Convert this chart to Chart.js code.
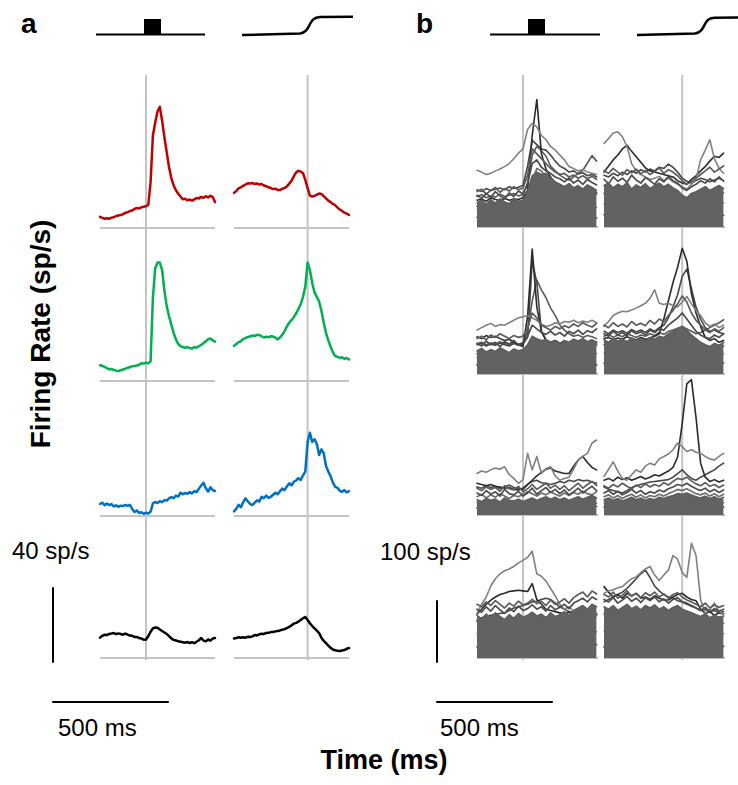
<!DOCTYPE html>
<html><head><meta charset="utf-8">
<script src="https://cdn.jsdelivr.net/npm/chart.js@4"></script>
<style>
html,body{margin:0;padding:0;background:#fff;}
body{width:738px;height:785px;overflow:hidden;position:relative;font-family:"Liberation Sans",Arial,sans-serif;}
canvas{position:absolute;}
svg{position:absolute;left:0;top:0;}
</style></head><body>
<svg width="738" height="785" font-family="Liberation Sans, Arial, sans-serif">
  <text x="21" y="33" font-size="28" font-weight="bold">a</text>
  <text x="416" y="33" font-size="28" font-weight="bold">b</text>
  <line x1="96" y1="34.5" x2="205" y2="34.5" stroke="#000" stroke-width="2"/>
  <rect x="144" y="19" width="17" height="16" fill="#000"/>
  <path d="M242 35 L300 33.5 C306 33 308 28 310 24 C312 20 314 17.5 320 17 L353 16.8" stroke="#000" stroke-width="2.5" fill="none"/>
  <line x1="490" y1="34.5" x2="600" y2="34.5" stroke="#000" stroke-width="2"/>
  <rect x="528" y="19" width="17" height="16" fill="#000"/>
  <path d="M637 35 L695 33.5 C701 33 703 28 705 24 C707 20 709 18 715 17.8 L738 17.6" stroke="#000" stroke-width="2.5" fill="none"/>
  <text transform="translate(50,334) rotate(-90)" text-anchor="middle" font-size="28" font-weight="bold">Firing Rate (sp/s)</text>
  <text x="12" y="559" font-size="24">40 sp/s</text>
  <text x="380" y="560" font-size="24">100 sp/s</text>
  <text x="58" y="736" font-size="24">500 ms</text>
  <text x="440" y="736" font-size="24">500 ms</text>
  <text x="384" y="769" text-anchor="middle" font-size="27" font-weight="bold">Time (ms)</text>
</svg>
<script>
// ---------- time axes (ms) ----------
const tAL = [-200,-190,-180,-170,-160,-150,-140,-130,-120,-110,-100,-90,-80,-70,-60,-50,-40,-30,-20,-10,0,10,20,30,40,50,60,70,80,90,100,110,120,130,140,150,160,170,180,190,200,210,220,230,240,250,260,270,280,290,300];
const tAR = [-320,-310,-300,-290,-280,-270,-260,-250,-240,-230,-220,-210,-200,-190,-180,-170,-160,-150,-140,-130,-120,-110,-100,-90,-80,-70,-60,-50,-40,-30,-20,-10,0,10,20,30,40,50,60,70,80,90,100,110,120,130,140,150,160,170,180];
const tBL = [-200,-180,-160,-140,-120,-100,-80,-60,-40,-20,0,20,40,60,80,100,120,140,160,180,200,220,240,260,280,300,320];
const tBR = [-340,-320,-300,-280,-260,-240,-220,-200,-180,-160,-140,-120,-100,-80,-60,-40,-20,0,20,40,60,80,100,120,140,160,180];
const eventTime = 0;
const zeroRate = 0;
const scaleRateA = 40, scaleRateB = 100, scaleTime = 500;

// ---------- panel a: population averages (sp/s) ----------
const redL = [6,5.5,5,5.3,5,5.6,5.8,6.5,6.8,7,7.5,8.2,8.5,9.2,9.5,10.3,10.8,10.5,11.2,11.5,11.8,12.5,25,50,57,63,65.5,58,49,41,33,27,23,20.5,18.5,17,15.5,15.8,15,15.4,14.8,15.5,16.2,16,16.8,16.3,17.2,16.5,17.4,16.8,14];
const redR = [19,20,21.5,22,22.8,23.5,24.2,24,24.3,23.8,24.1,23.5,23.8,23,22.6,22,21.6,21,21.3,20.6,20.5,21.2,21.6,22.5,24,25.5,28,30,31,30.5,29.6,26,21.5,17.5,17,17.3,18,18.6,18.4,17.2,16,14.8,14,13,12.3,11,10,9.2,8.3,7.8,7];
const greenL = [8.5,8.2,7.6,7,6.3,6.5,6,5.6,5.4,5.8,6.2,6.6,7.2,7.4,8,8.1,8.4,8.8,9.6,9.4,9.9,9.6,10.5,45,61,64,64,60,49,40.5,35,30.5,26,22.5,20,18.8,18.4,18,18.3,17.8,17.5,18.4,18,18.8,19.5,20.4,21.5,22.6,23,22,21.3];
const greenR = [19,20,21,21.5,22.8,23.2,23.8,24,24.6,24.3,25,24.8,24.2,23.5,23.9,23.6,24.2,24,23.4,22.5,23.5,25,27,29.5,31.5,33,34.5,36.5,39,41.5,45.5,51,64,60,53,48,45.5,43,38,31.5,26,22,18.5,15.5,13.5,13,12.5,12.8,12,12.4,11.7];
const blueL = [6.5,7.2,5.8,6.8,5.9,6.4,5.2,5.8,5,5.6,5.4,6,5.5,6,3.8,2.2,3,1.6,2,1.2,1.8,1.3,2.4,6.8,7.6,7,8,7.5,8.6,8.3,9.5,10.2,9.6,11,10.5,12.6,11.8,12.4,12,12.9,12.2,13.4,13,14.8,16.5,18,15,13.2,15.5,14,13.5];
const blueR = [2.5,4,6,4.8,7.5,9.5,8,6.5,5.9,7.2,8.5,7.8,10.4,9.6,11,9.8,10.4,11.5,12.6,11.8,13.5,14.8,14,16,17.7,16.5,18.5,19.2,20.4,19.5,22,24,40,45,40,41.5,39,33,36,34,27,24,21.5,18,15.8,15.2,13.6,13.1,14,12.7,13.4];
const blackL = [11,12,12.6,12.4,13,13.2,13.5,12.9,13.3,13,12.6,13.2,12.6,12.1,12,11.4,11.4,10.8,10.5,9.9,10,11.8,14.2,16,16.5,16.3,15.4,14.6,13.8,13,11.8,10.6,9.8,9.5,9,8.8,8.5,8.3,8.6,8.1,8.5,8,8.8,9.6,10.8,9.4,9,10,9.4,10.5,10.8];
const blackR = [10.5,10.8,11.2,10.9,11.2,11,11.5,11.3,11.7,12.4,12.2,12.8,13.1,13,13.5,13.6,14,14.1,14.4,14.6,14.9,15.3,15.6,16.2,16.8,17.6,18.6,19,19.7,20.6,21.5,22.2,20.5,18.8,17.3,16,14.8,13.5,11,9.3,8,6.7,5.5,4.6,4.2,3.9,3.8,4.1,4.3,5,5.4];

// ---------- panel b: individual neurons (sp/s) ----------
const b1L_band = [40,44,37,45,39,46,41,38,47,42,44,58,84,90,86,88,80,74,70,66,71,64,68,62,69,65,60];
const b1L_in1 = [16,19,14,18,15,20,17,13,18,16,15,22,30,34,28,25,22,20,18,21,17,19,16,20,18,17,15];
const b1L_in2 = [28,25,30,27,31,26,29,32,27,30,28,40,62,58,50,45,40,38,35,39,34,37,33,38,35,36,32];
const b1L_m1 = [52,47,55,49,58,51,46,56,50,59,54,72,104,110,98,92,88,82,79,74,80,72,77,70,78,73,69];
const b1L_m2 = [34,39,31,42,36,33,41,35,44,37,40,52,75,96,92,80,70,66,60,63,58,61,55,60,57,62,54];
const b1L_m3 = [58,62,54,60,65,57,63,59,66,61,64,85,128,120,112,104,96,90,86,88,82,85,80,84,79,83,78];
const b1L_o1 = [93,90,86,88,92,95,99,104,112,121,128,160,170,164,150,143,132,126,118,110,99,96,92,94,90,88,86];
const b1L_o2 = [44,46,42,48,45,43,47,44,46,45,48,60,150,209,120,95,82,72,65,61,63,58,60,57,61,59,56];
const b1L_o3 = [61,58,63,60,62,64,61,66,63,65,68,100,142,135,128,126,118,108,100,96,90,92,87,89,84,86,82];
const b1L_o4 = [50,53,48,51,49,54,50,52,55,51,53,70,118,132,125,116,100,92,85,80,77,82,88,93,105,117,108];

const b1R_band = [68,72,64,70,66,73,62,69,65,71,63,68,72,66,70,64,60,52,48,55,58,62,66,60,64,68,63];
const b1R_in1 = [20,17,22,18,21,16,19,23,18,20,17,21,19,22,18,20,16,14,17,19,22,18,21,17,20,18,19];
const b1R_in2 = [38,42,35,40,37,43,36,41,39,44,37,40,45,38,42,36,33,30,34,38,35,41,37,43,39,36,40];
const b1R_m1 = [78,71,82,75,80,73,85,77,72,81,76,70,79,74,83,76,72,64,60,66,70,76,72,79,74,82,75];
const b1R_m2 = [55,60,52,58,63,54,59,56,62,53,58,61,55,60,57,52,50,45,42,48,52,55,60,53,57,61,56];
const b1R_m3 = [92,88,96,90,85,94,89,95,87,93,86,91,97,88,94,90,84,76,70,74,80,86,92,98,90,95,100];
const b1R_o1 = [137,145,154,156,148,132,104,92,86,82,78,80,83,76,80,74,70,66,62,70,78,110,126,143,112,96,88];
const b1R_o2 = [90,100,110,118,128,134,124,115,106,97,92,90,88,86,84,82,76,72,70,78,84,92,99,108,116,114,121];
const b1R_o3 = [85,82,88,84,90,86,92,88,94,90,95,92,98,96,103,98,90,80,75,72,76,80,78,74,77,80,76];

const b2L_band = [38,42,36,40,37,43,39,35,41,38,40,48,62,58,55,56,52,54,50,55,52,57,54,58,53,56,52];
const b2L_in1 = [15,18,13,17,14,19,16,12,17,15,14,18,26,24,20,18,16,19,15,18,16,19,17,20,16,18,15];
const b2L_in2 = [27,24,29,26,30,25,28,31,26,29,27,32,45,42,38,35,33,36,32,36,34,38,35,39,34,37,33];
const b2L_m1 = [50,46,54,48,52,45,53,49,55,47,51,62,80,74,68,65,70,64,68,62,70,66,72,65,71,68,74];
const b2L_m2 = [33,37,30,36,32,38,34,31,36,33,35,44,58,55,50,48,46,50,45,49,47,51,48,52,46,50,47];
const b2L_m3 = [58,62,56,64,60,66,62,58,63,60,62,75,100,92,80,76,72,78,74,79,76,82,78,84,80,77,83];
const b2L_o1 = [72,76,80,83,78,81,80,84,88,92,94,96,92,88,82,78,80,84,82,86,85,88,84,87,85,88,84];
const b2L_o2 = [61,58,63,60,62,58,55,57,52,48,45,95,205,110,70,56,52,55,50,53,49,52,50,54,51,55,52];
const b2L_o3 = [48,50,46,49,47,51,48,46,50,47,49,60,185,150,70,55,50,53,49,52,48,51,49,53,50,52,49];
const b2L_o4 = [50,52,48,51,49,53,50,48,52,49,51,70,120,154,138,125,108,96,80,72,66,62,64,60,63,61,58];

const b2R_band = [56,52,58,54,57,53,59,55,58,54,60,57,62,60,66,70,74,78,72,64,58,52,48,45,50,47,52];
const b2R_in1 = [18,21,16,20,17,22,18,21,17,20,19,23,20,24,22,26,24,28,25,22,19,17,20,16,19,17,18];
const b2R_in2 = [34,31,37,33,36,32,38,34,37,33,39,36,40,38,44,46,48,52,47,42,38,34,31,35,32,36,33];
const b2R_m1 = [66,62,70,64,68,63,71,66,69,64,72,68,74,72,80,86,92,100,90,80,70,64,60,58,64,60,66];
const b2R_m2 = [48,44,51,46,50,45,52,47,50,46,53,49,55,53,58,62,66,70,64,57,51,46,42,40,44,41,46];
const b2R_m3 = [80,76,84,78,82,77,86,80,83,79,88,82,90,86,96,104,115,128,118,100,88,80,72,68,74,70,76];
const b2R_o1 = [78,86,96,100,103,102,105,108,112,116,124,138,116,114,116,112,110,118,127,115,104,96,84,78,82,76,80];
const b2R_o2 = [58,60,56,59,57,61,58,56,60,57,59,62,66,90,120,150,175,206,185,132,100,78,60,55,58,52,55];
const b2R_o3 = [70,66,72,68,71,67,73,69,72,68,74,70,76,80,92,110,130,160,172,140,110,90,76,70,72,68,66];
const b2R_o4 = [62,65,60,64,61,66,63,60,64,62,66,63,68,65,70,72,75,78,74,70,66,68,72,76,80,84,89];

const b3L_band = [25,22,27,24,26,21,28,24,23,26,22,25,28,24,27,30,26,29,25,28,24,27,30,26,29,32,28];
const b3L_in1 = [12,15,10,14,11,16,13,10,14,12,11,14,16,12,15,17,13,16,12,15,13,17,14,18,15,16,14];
const b3L_in2 = [20,17,22,18,21,16,19,23,18,20,17,19,22,18,21,23,19,22,18,21,17,20,23,19,22,21,19];
const b3L_m1 = [36,32,40,34,38,31,42,35,33,39,31,36,44,34,40,45,37,42,35,41,33,38,44,36,42,47,40];
const b3L_m2 = [30,34,28,33,29,35,31,27,32,30,34,38,35,31,36,33,38,34,31,36,32,37,34,39,35,33,38];
const b3L_m3 = [44,40,46,42,45,39,48,43,41,47,38,43,50,42,47,52,44,49,42,48,40,46,52,44,50,55,48];
const b3L_o1 = [68,72,70,74,77,75,79,66,60,52,58,101,74,96,68,76,79,64,57,60,62,75,90,96,101,118,123];
const b3L_o2 = [52,50,48,50,47,46,44,45,42,41,44,50,57,64,70,75,77,72,70,68,68,80,90,96,86,78,74];
const b3L_o3 = [46,44,48,45,47,43,46,49,45,43,42,50,55,57,53,52,50,52,55,53,57,55,58,56,57,54,52];

const b3R_band = [25,28,24,27,23,26,29,25,28,24,27,25,29,27,30,32,35,34,36,33,30,28,31,27,30,26,29];
const b3R_in1 = [13,10,15,12,14,11,16,12,15,13,10,14,12,15,13,16,18,17,15,14,12,15,13,16,12,14,13];
const b3R_in2 = [20,23,18,22,19,24,20,17,21,19,23,20,24,21,25,27,29,28,26,24,21,23,20,24,21,22,20];
const b3R_m1 = [36,40,34,39,33,37,42,36,40,34,38,36,41,38,43,46,50,48,52,47,43,40,44,38,42,37,41];
const b3R_m2 = [30,33,28,32,27,31,34,29,33,28,32,30,34,31,35,38,42,40,43,39,35,33,36,31,35,30,34];
const b3R_m3 = [48,44,50,46,52,47,43,49,45,51,46,50,47,53,49,55,60,58,62,56,51,48,53,47,50,45,49];
const b3R_o1 = [63,75,87,72,60,57,66,74,70,80,85,82,92,96,100,107,118,112,104,107,103,101,96,92,90,96,101];
const b3R_o2 = [57,60,56,62,58,61,57,60,63,59,62,66,64,68,72,78,95,150,215,222,160,85,62,55,58,54,57];
const b3R_o3 = [46,42,40,38,36,40,45,48,50,52,54,55,56,57,58,62,68,74,66,60,57,62,66,70,74,80,85];

const b4L_band = [70,64,72,66,74,68,63,71,65,73,67,70,75,69,72,66,74,68,71,76,70,78,82,86,80,88,84];
const b4L_in1 = [18,21,16,20,17,22,19,15,20,18,21,17,22,19,23,20,18,21,17,22,19,23,20,24,21,19,22];
const b4L_in2 = [40,36,42,38,41,35,39,43,37,41,38,42,44,40,43,39,37,41,38,42,40,44,41,45,42,40,43];
const b4L_m1 = [80,75,84,77,86,79,73,82,76,85,78,81,87,80,84,77,86,79,83,88,81,90,94,98,92,100,96];
const b4L_m2 = [60,55,63,57,64,58,54,62,56,63,57,61,65,59,62,56,64,58,61,66,60,67,71,75,69,76,72];
const b4L_m3 = [88,84,92,86,94,88,82,90,85,93,87,90,96,89,93,86,95,88,92,97,90,99,104,108,100,110,105];
const b4L_o1 = [73,88,100,118,130,138,143,146,150,156,160,165,175,138,134,126,114,102,88,80,84,76,72,70,68,71,69];
const b4L_o2 = [72,80,88,95,100,104,106,109,110,111,110,109,122,96,88,80,78,76,74,72,75,71,73,70,72,69,71];
const b4L_o3 = [62,66,68,70,72,73,74,78,82,84,86,88,92,93,96,98,96,90,84,80,76,74,78,72,75,70,73];

const b4R_band = [84,80,86,78,83,88,81,85,79,86,82,87,80,84,78,83,86,80,77,74,71,68,72,66,70,67,69];
const b4R_in1 = [18,22,17,21,19,23,18,22,20,17,21,19,23,20,18,22,19,21,17,20,18,22,19,21,17,20,19];
const b4R_in2 = [44,40,46,41,45,39,43,47,42,45,40,44,48,43,46,41,44,47,42,40,43,39,42,38,41,37,40];
const b4R_m1 = [96,92,99,90,95,101,93,98,91,99,94,100,92,97,90,96,99,92,88,85,82,78,83,76,81,77,80];
const b4R_m2 = [72,68,75,66,71,76,69,73,67,74,70,75,68,72,66,71,74,68,65,62,59,56,60,54,58,55,57];
const b4R_m3 = [104,100,108,98,103,110,101,106,99,107,102,108,100,105,98,104,107,100,95,92,88,84,90,82,87,83,86];
const b4R_o1 = [106,110,112,115,117,124,130,133,140,146,150,136,127,136,144,168,162,140,132,188,168,96,73,80,90,76,72];
const b4R_o2 = [117,108,100,104,98,106,102,106,98,100,96,102,98,95,95,100,104,106,100,96,94,80,73,76,70,74,72];
const b4R_o3 = [92,96,100,104,108,114,122,130,138,144,132,118,110,104,100,98,94,92,90,86,82,78,80,76,78,74,76];

// ---------- layout ----------
const PAD = 4;
const PX_MS = 0.23, PX_A = 1.85, PX_B = 0.61;
const rowsA = [228, 381, 516, 658];
const rowsB = [227, 374, 515, 658];
const HA = 140, HB = 142;
const colA = [{x:100, r:[-200,300], t:tAL}, {x:234, r:[-320,180], t:tAR}];
const colB = [{x:477, r:[-200,326], t:tBL}, {x:604, r:[-340,186], t:tBR}];

let refId = 0;
function refPlugin(cfg){
  const draw = (chart)=>{
    const {ctx, chartArea:a, scales} = chart;
    ctx.save();
    (cfg.h||[]).forEach(l=>{
      const py = scales.y.getPixelForValue(l.value);
      ctx.strokeStyle=l.color; ctx.lineWidth=l.width;
      ctx.beginPath(); ctx.moveTo(a.left,py); ctx.lineTo(a.right,py); ctx.stroke();
    });
    (cfg.v||[]).forEach(l=>{
      const px = scales.x.getPixelForValue(l.value);
      ctx.strokeStyle=l.color; ctx.lineWidth=l.width;
      ctx.beginPath(); ctx.moveTo(px,a.top); ctx.lineTo(px,a.bottom); ctx.stroke();
    });
    ctx.restore();
  };
  const p = {id:'ref'+(refId++)};
  if (cfg.after) p.afterDatasetsDraw = draw; else p.beforeDatasetsDraw = draw;
  return p;
}

function addChart(x, y, w, h, xr, yr, datasets, plugins){
  const c = document.createElement('canvas');
  const cw = w + 2*PAD, ch = h + 2*PAD;
  c.width = cw; c.height = ch;
  c.style.left = (x-PAD)+'px'; c.style.top = (y-PAD)+'px';
  c.style.width = cw+'px'; c.style.height = ch+'px';
  document.body.appendChild(c);
  return new Chart(c, {
    type:'line',
    data:{datasets},
    options:{
      responsive:false, animation:false, devicePixelRatio:1, events:[],
      layout:{padding:PAD},
      plugins:{legend:{display:false}, tooltip:{enabled:false}},
      scales:{
        x:{type:'linear', min:xr[0], max:xr[1], display:false},
        y:{type:'linear', min:yr[0], max:yr[1], display:false}
      },
      elements:{point:{radius:0}, line:{tension:0, borderJoinStyle:'round', borderCapStyle:'round'}}
    },
    plugins: plugins||[]
  });
}
const pts = (t, v) => t.map((tt,i)=>({x:tt, y:v[i]}));
function lineDs(t, v, color, width){
  return {data:pts(t,v), borderColor:color, borderWidth:width, fill:false, clip:false};
}

// event lines (behind everything), spanning all rows
[colA, colB].forEach(cols=>{
  cols.forEach(col=>{
    const w = Math.round((col.r[1]-col.r[0])*PX_MS);
    addChart(col.x, 75, w, 585, col.r, [0,1], [], [refPlugin({v:[{value:eventTime, color:'#c4c4c4', width:2}]})]);
  });
});

// panel a
const seriesA = [[redL, redR, '#c00000'], [greenL, greenR, '#00b050'], [blueL, blueR, '#0070c0'], [blackL, blackR, '#000000']];
seriesA.forEach((s, r)=>{
  colA.forEach((col, ci)=>{
    const w = Math.round((col.r[1]-col.r[0])*PX_MS);
    addChart(col.x, rowsA[r]-HA, w, HA, col.r, [0, HA/PX_A],
      [lineDs(col.t, s[ci], s[2], 2.5)],
      [refPlugin({h:[{value:zeroRate, color:'#c4c4c4', width:2}]})]);
  });
});

// panel b: [band, inner dark, inner light, mid1, mid2, mid3, outliers...]
const seriesB = [
  [[b1L_band,b1L_in1,b1L_in2,b1L_m1,b1L_m2,b1L_m3,b1L_o1,b1L_o2,b1L_o3,b1L_o4],[b1R_band,b1R_in1,b1R_in2,b1R_m1,b1R_m2,b1R_m3,b1R_o1,b1R_o2,b1R_o3]],
  [[b2L_band,b2L_in1,b2L_in2,b2L_m1,b2L_m2,b2L_m3,b2L_o1,b2L_o2,b2L_o3,b2L_o4],[b2R_band,b2R_in1,b2R_in2,b2R_m1,b2R_m2,b2R_m3,b2R_o1,b2R_o2,b2R_o3,b2R_o4]],
  [[b3L_band,b3L_in1,b3L_in2,b3L_m1,b3L_m2,b3L_m3,b3L_o1,b3L_o2,b3L_o3],[b3R_band,b3R_in1,b3R_in2,b3R_m1,b3R_m2,b3R_m3,b3R_o1,b3R_o2,b3R_o3]],
  [[b4L_band,b4L_in1,b4L_in2,b4L_m1,b4L_m2,b4L_m3,b4L_o1,b4L_o2,b4L_o3],[b4R_band,b4R_in1,b4R_in2,b4R_m1,b4R_m2,b4R_m3,b4R_o1,b4R_o2,b4R_o3]]
];
const midColors = ['#4d4d4d', '#6e6e6e', '#5c5c5c'];
const outlierColors = ['#808080', '#2a2a2a', '#474747', '#5a5a5a'];
seriesB.forEach((row, r)=>{
  colB.forEach((col, ci)=>{
    const s = row[ci];
    const w = Math.round((col.r[1]-col.r[0])*PX_MS);
    const ds = [];
    ds.push({data:pts(col.t, s[0]), borderColor:'#5e5e5e', borderWidth:1.6, fill:'origin', backgroundColor:'#626262', clip:false});
    for (let k=3; k<6; k++) ds.push(lineDs(col.t, s[k], midColors[k-3], 1.7));
    ds.push(lineDs(col.t, s[1], '#3a3a3a', 1.6));
    ds.push(lineDs(col.t, s[2], '#7a7a7a', 1.4));
    for (let k=6; k<s.length; k++) ds.push(lineDs(col.t, s[k], outlierColors[k-6], 1.6));
    addChart(col.x, rowsB[r]-HB, w, HB, col.r, [0, HB/PX_B], ds,
      [refPlugin({h:[{value:zeroRate, color:'#bdbdbd', width:2}]})]);
  });
});

// scale bars
function scaleBar(x, yTop, w, h, pxUnit, rate){
  const yr = [rate - h/pxUnit, rate];
  const xr = [0, w/PX_MS];
  addChart(x, yTop, w, h, xr, yr, [
    {data:[{x:0,y:zeroRate},{x:0,y:rate}], borderColor:'#000', borderWidth:2, fill:false, clip:false},
    {data:[{x:0,y:yr[0]},{x:scaleTime,y:yr[0]}], borderColor:'#000', borderWidth:2, fill:false, clip:false}
  ]);
}
scaleBar(53, 662 - scaleRateA*PX_A, 120, 702-(662-scaleRateA*PX_A), PX_A, scaleRateA);
scaleBar(437, 662 - scaleRateB*PX_B, 120, 702-(662-scaleRateB*PX_B), PX_B, scaleRateB);
</script>
</body></html>
